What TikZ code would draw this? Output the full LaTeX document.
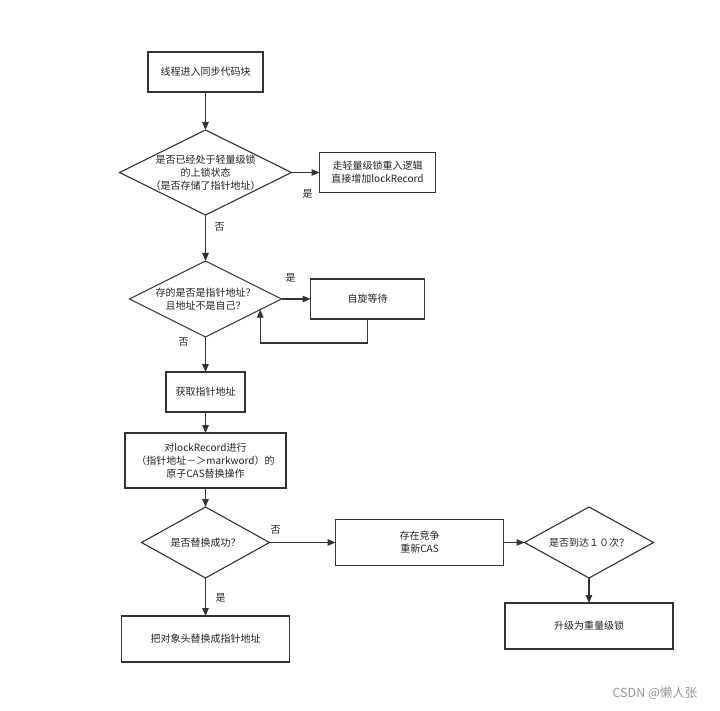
\documentclass[tikz,border=0pt]{standalone}
\usepackage{fontspec}
\setmainfont{Noto Sans CJK SC}
\usepackage{xcolor}
\definecolor{linegray}{RGB}{ 51,  51,  51}
\definecolor{textgray}{RGB}{ 34,  34,  34}
\definecolor{markgray}{RGB}{150, 150, 150}
\usepackage{tikz}
\usetikzlibrary{shapes.geometric, arrows.meta, positioning}
\tikzset{
  procbox/.style={draw=linegray, line width=1.1pt, fill=white,
    inner sep=2pt, outer sep=0pt, align=center, text=textgray,
    font=\fontsize{10}{13}\selectfont},
  decision/.style={diamond, draw=linegray, line width=1.1pt, fill=white,
    inner sep=-20pt, outer sep=0pt, align=center, text=textgray,
    font=\fontsize{10}{13}\selectfont},
  flowarrow/.style={-{Triangle[length=8pt,width=6.5pt]}, line width=1.1pt, draw=linegray},
  branch/.style={text=textgray, font=\fontsize{10}{12}\selectfont, inner sep=0pt}
}

\begin{document}
\begin{tikzpicture}[x=1pt, y=-1pt]

  \useasboundingbox (0,0) rectangle (720,711);

  \node[procbox, minimum width=115pt, minimum height=40pt] (enter) at (205.5,72)
    {线程进入同步代码块};

  \node[decision, minimum width=172pt, minimum height=85pt, below=38pt of enter] (islight)
    {是否已经处于轻量级锁\\的上锁状态\\（是否存储了指针地址）};

  \node[procbox, minimum width=116pt, minimum height=40pt, right=28pt of islight] (reentry)
    {走轻量级锁重入逻辑\\直接增加lockRecord};

  \node[decision, minimum width=152pt, minimum height=76pt, below=46pt of islight] (isptr)
    {存的是否是指针地址？\\且地址不是自己？};

  \node[procbox, minimum width=114pt, minimum height=40pt, right=29pt of isptr] (spin)
    {自旋等待};

  \node[procbox, minimum width=79pt, minimum height=40pt, below=35pt of isptr] (getaddr)
    {获取指针地址};

  \node[procbox, minimum width=161pt, minimum height=55pt, below=21pt of getaddr] (casop)
    {对lockRecord进行\\（指针地址－＞markword）的\\原子CAS替换操作};

  \node[decision, minimum width=128pt, minimum height=71pt, below=19pt of casop] (isok)
    {是否替换成功？};

  \node[procbox, minimum width=168pt, minimum height=46pt, right=66pt of isok] (retry)
    {存在竞争\\重新CAS};

  \node[decision, minimum width=129pt, minimum height=71pt, right=21pt of retry] (isten)
    {是否到达１０次？};

  \node[procbox, minimum width=168pt, minimum height=46pt, below=25pt of isten] (heavy)
    {升级为重量级锁};

  \node[procbox, minimum width=168pt, minimum height=46pt, below=38pt of isok] (replace)
    {把对象头替换成指针地址};

  \draw[flowarrow] (enter.south) -- (islight.north);
  \draw[flowarrow] (islight.east) -- (reentry.west);
  \draw[flowarrow] (islight.south) -- (isptr.north);
  \draw[flowarrow] (isptr.east) -- (spin.west);
  \draw[flowarrow] (spin.south) -- ++(0pt,-24pt) -| (isptr.-11.5);
  \draw[flowarrow] (isptr.south) -- (getaddr.north);
  \draw[flowarrow] (getaddr.south) -- (casop.north);
  \draw[flowarrow] (casop.south) -- (isok.north);
  \draw[flowarrow] (isok.east) -- (retry.west);
  \draw[flowarrow] (retry.east) -- (isten.west);
  \draw[flowarrow] (isten.south) -- (heavy.north);
  \draw[flowarrow] (isok.south) -- (replace.north);

  \node[branch] at ([xshift=16pt, yshift=-21.5pt]islight.east) {是};
  \node[branch] at ([xshift=14pt, yshift=-12pt]islight.south) {否};
  \node[branch] at ([xshift=9pt, yshift=21pt]isptr.east) {是};
  \node[branch] at ([xshift=-22pt, yshift=-5pt]isptr.south) {否};
  \node[branch] at ([xshift=6pt, yshift=12.5pt]isok.east) {否};
  \node[branch] at ([xshift=15pt, yshift=-20pt]isok.south) {是};

  \node[font=\fontsize{12.5}{15}\selectfont, text=markgray] (mark) at (655,693) {CSDN @懒人张};

\end{tikzpicture}
\end{document}
